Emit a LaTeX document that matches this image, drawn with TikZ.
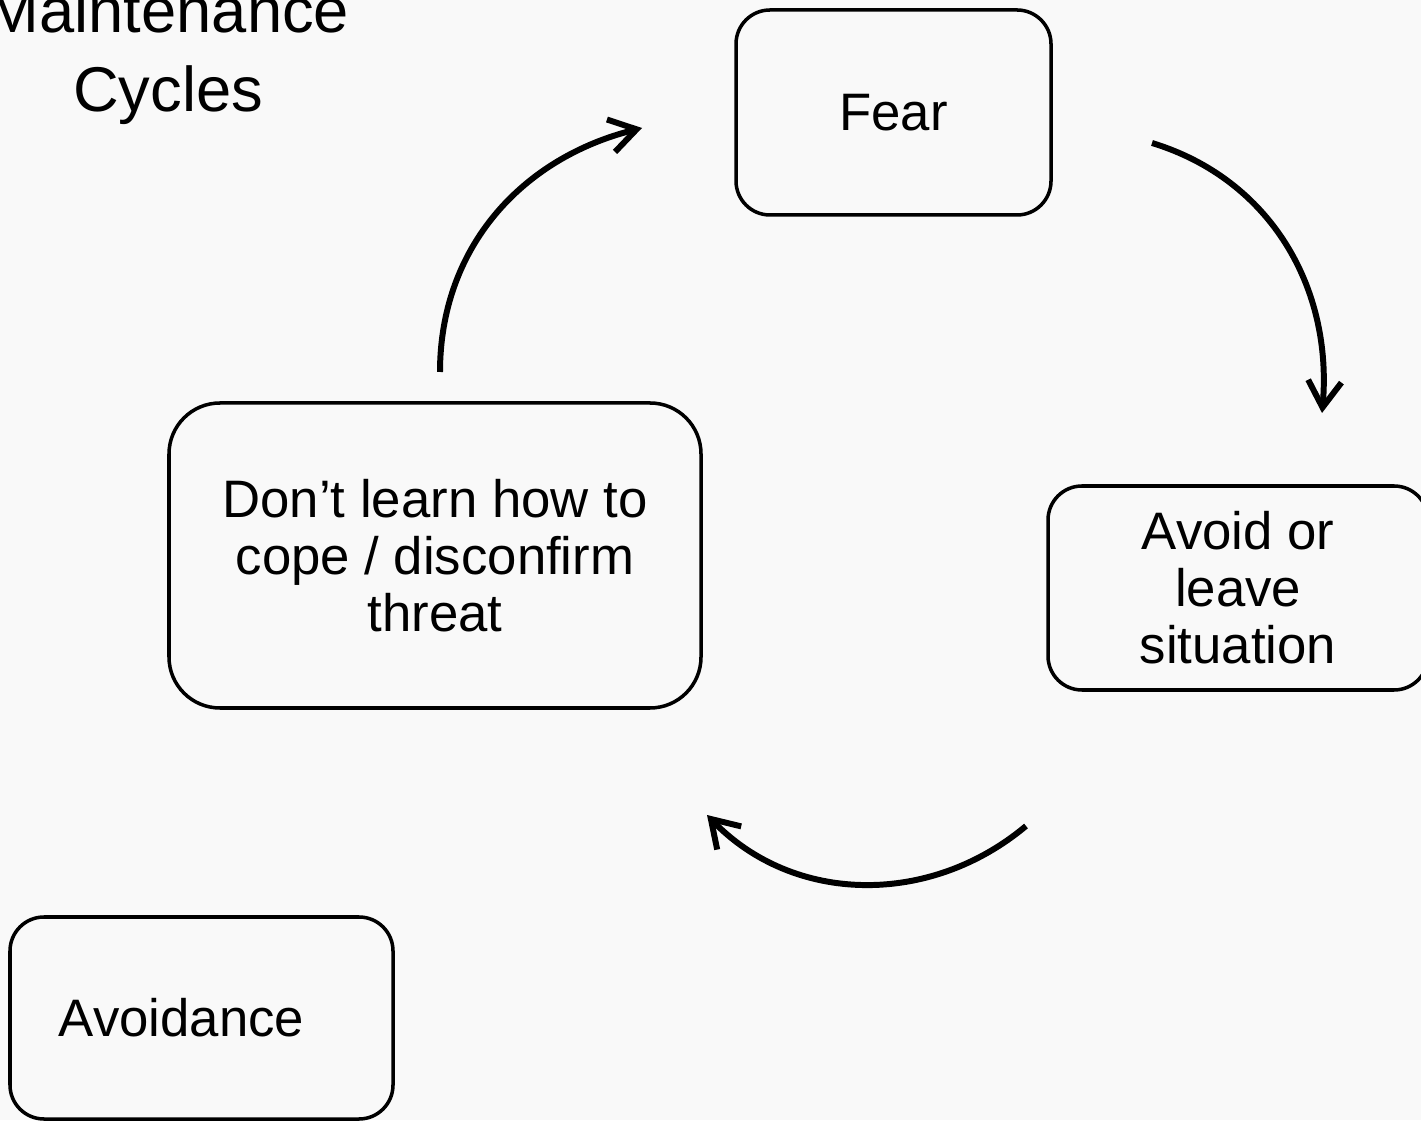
\documentclass[tikz,border=0pt]{standalone}
\usepackage{fontspec}
\setmainfont{Liberation Sans}
\usetikzlibrary{arrows.meta}
\definecolor{paper}{RGB}{249,249,249}
\tikzset{
  stage/.style={draw, line width=1pt, rounded corners=0.34cm, inner sep=0pt,
    align=center, font=\fontsize{15}{16.2}\selectfont},
  cyclearrow/.style={line width=1.7pt, -{Straight Barb[length=7.5pt,width=9.5pt]}}
}
\begin{document}
\begin{tikzpicture}
\useasboundingbox (0,0) rectangle (14.21,11.20);
\fill[paper] (0,0) rectangle (14.21,11.20);
\path (1.68,10.645) node[align=center, font=\fontsize{18}{22.5}\selectfont] (title) {Maintenance\\Cycles};
\node[stage, minimum width=3.15cm, minimum height=2.05cm] (fear) at (8.935,10.075) {Fear};
\node[stage, minimum width=3.80cm, minimum height=2.04cm] (leave) at (12.38,5.32) {Avoid or\\leave\\situation};
\node[stage, rounded corners=0.51cm, minimum width=5.32cm, minimum height=3.05cm] (cope) at (4.35,5.645) {Don’t learn how to\\cope / disconfirm\\threat};
\node[stage, minimum width=3.83cm, minimum height=2.02cm, text width=2.85cm, align=left] (avoid) at (2.015,1.02) {Avoidance};
\coordinate (a1) at (11.52,9.77);
\coordinate (a2) at (13.22,7.07);
\coordinate (b1) at (10.26,2.94);
\coordinate (b2) at (7.07,3.05);
\coordinate (c1) at (4.40,7.48);
\coordinate (c2) at (6.42,9.92);
\draw[cyclearrow] (a1) to[out=-17, in=85] (a2);
\draw[cyclearrow] (b1) to[out=220, in=-46] (b2);
\draw[cyclearrow] (c1) to[out=90, in=194] (c2);
\end{tikzpicture}
\end{document}
